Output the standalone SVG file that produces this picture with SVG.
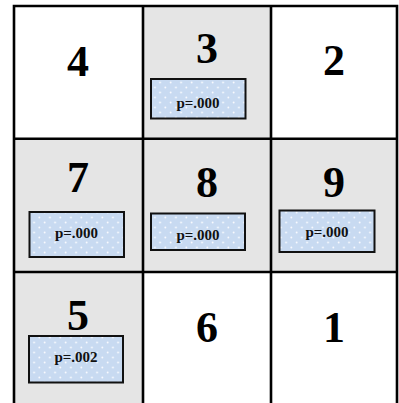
<svg xmlns="http://www.w3.org/2000/svg" width="399" height="403" viewBox="0 0 399 403">
<defs>
<pattern id="dots" width="10.5" height="10" patternUnits="userSpaceOnUse">
<rect width="10.5" height="10" fill="#c8daf1"/>
<circle cx="2.6" cy="2.5" r="0.9" fill="#ffffff" opacity="0.9"/>
<circle cx="7.9" cy="7.5" r="0.9" fill="#ffffff" opacity="0.9"/>
</pattern>
</defs>
<style>
.cell{stroke:none}
.w{fill:#ffffff}
.g{fill:#e5e5e5}
.num{font-family:"Liberation Serif","Times New Roman",serif;font-weight:bold;font-size:44px;fill:#000;text-anchor:middle}
.box{fill:url(#dots);stroke:#111;stroke-width:2}
.p{font-family:"Liberation Serif","Times New Roman",serif;font-weight:bold;font-size:15px;fill:#111;text-anchor:middle}
.grid{stroke:#000;stroke-width:2.6;fill:none}
</style>
<rect width="399" height="403" fill="#ffffff"/>
<g id="cell4"><rect class="cell w" x="14" y="6" width="129" height="132.7"/><text class="num" x="78" y="76">4</text></g>
<g id="cell3"><rect class="cell g" x="143" y="6" width="128" height="132.7"/><text class="num" x="207" y="63">3</text><rect class="box" x="151" y="79" width="94.5" height="39.5"/><text class="p" x="198" y="108">p=.000</text></g>
<g id="cell2"><rect class="cell w" x="271" y="6" width="126" height="132.7"/><text class="num" x="334" y="75">2</text></g>
<g id="cell7"><rect class="cell g" x="14" y="138.7" width="129" height="133.3"/><text class="num" x="78" y="192">7</text><rect class="box" x="29.5" y="212" width="94.5" height="45"/><text class="p" x="76.5" y="238">p=.000</text></g>
<g id="cell8"><rect class="cell g" x="143" y="138.7" width="128" height="133.3"/><text class="num" x="207" y="197">8</text><rect class="box" x="151" y="213.5" width="94" height="36.5"/><text class="p" x="198" y="240">p=.000</text></g>
<g id="cell9"><rect class="cell g" x="271" y="138.7" width="126" height="133.3"/><text class="num" x="334" y="197">9</text><rect class="box" x="279.5" y="210.5" width="95" height="41.5"/><text class="p" x="327" y="237">p=.000</text></g>
<g id="cell5"><rect class="cell g" x="14" y="272" width="129" height="131"/><text class="num" x="78" y="330">5</text><rect class="box" x="29" y="336" width="94" height="46.5"/><text class="p" x="76" y="361.5">p=.002</text></g>
<g id="cell6"><rect class="cell w" x="143" y="272" width="128" height="131"/><text class="num" x="207" y="342">6</text></g>
<g id="cell1"><rect class="cell w" x="271" y="272" width="126" height="131"/><text class="num" x="334" y="342">1</text></g>
<g id="connectors">
<path class="grid" d="M14 404 V6 H397 V404 M143 6 V404 M271 6 V404 M14 138.7 H397 M14 272 H397"/>
</g>
</svg>
